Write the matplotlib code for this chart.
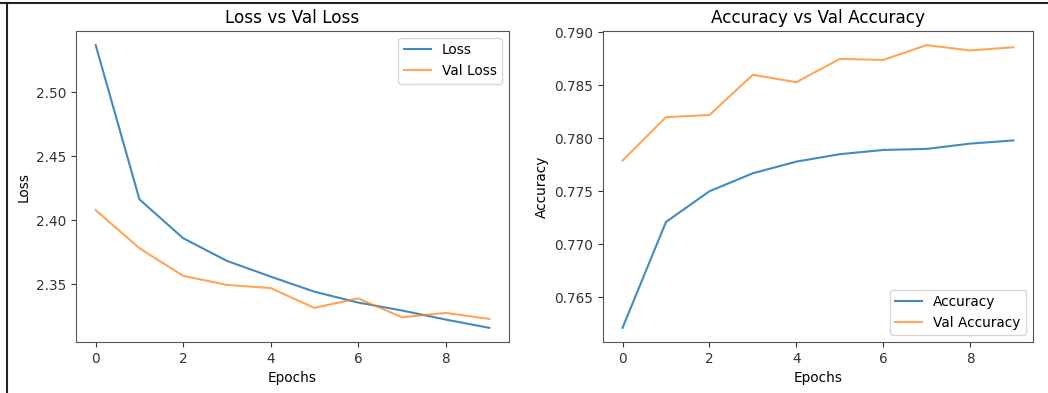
import matplotlib
matplotlib.use("Agg")
import matplotlib.pyplot as plt
from matplotlib.lines import Line2D

epochs = list(range(10))
loss = [2.537, 2.4164, 2.386, 2.3683, 2.356, 2.3442, 2.3357, 2.3295, 2.3224, 2.3159]
val_loss = [2.408, 2.3782, 2.3566, 2.3495, 2.347, 2.3315, 2.339, 2.3242, 2.3276, 2.3229]
accuracy = [0.7621, 0.7721, 0.7750, 0.7767, 0.7778, 0.7785, 0.7789, 0.7790, 0.7795, 0.7798]
val_accuracy = [0.7779, 0.7820, 0.7822, 0.7860, 0.7853, 0.7875, 0.7874, 0.7888, 0.7883, 0.7886]

fig = plt.figure(figsize=(10.48, 3.93), dpi=100)
ax1 = fig.add_axes([76/1048, 1-342/393, (509-76)/1048, (342-31)/393])
ax2 = fig.add_axes([603/1048, 1-342/393, (1033-603)/1048, (342-31)/393])

fs = 9.8
ax1.plot(epochs, loss, label="Loss", color="#1f77b4", lw=1.5, alpha=0.85)
ax1.plot(epochs, val_loss, label="Val Loss", color="#ff7f0e", lw=1.5, alpha=0.7)
ax1.set_title("Loss vs Val Loss", fontsize=12.2)
ax1.set_xlabel("Epochs", fontsize=fs)
ax1.set_ylabel("Loss", fontsize=fs)
ax1.set_xticks([0, 2, 4, 6, 8])
ax1.set_yticks([2.35, 2.40, 2.45, 2.50])
ax1.tick_params(labelsize=fs, colors="#333333")
ax1.legend(loc="upper right", fontsize=fs)

ax2.plot(epochs, accuracy, label="Accuracy", color="#1f77b4", lw=1.5, alpha=0.85)
ax2.plot(epochs, val_accuracy, label="Val Accuracy", color="#ff7f0e", lw=1.5, alpha=0.7)
ax2.set_title("Accuracy vs Val Accuracy", fontsize=12.2)
ax2.set_xlabel("Epochs", fontsize=fs)
ax2.set_ylabel("Accuracy", fontsize=fs)
ax2.set_xticks([0, 2, 4, 6, 8])
ax2.set_yticks([0.765, 0.770, 0.775, 0.780, 0.785, 0.790])
ax2.tick_params(labelsize=fs, colors="#333333")
ax2.legend(loc="lower right", fontsize=fs)

for ax in (ax1, ax2):
    for s in ax.spines.values():
        s.set_color("#555555")

# image frame lines (top and left)
fig.add_artist(Line2D([0, 1], [1-3/393, 1-3/393], transform=fig.transFigure, color="#222222", lw=1.5))
fig.add_artist(Line2D([7/1048, 7/1048], [0, 1-3/393], transform=fig.transFigure, color="#222222", lw=1.5))

fig.savefig("out.png", dpi=100)
